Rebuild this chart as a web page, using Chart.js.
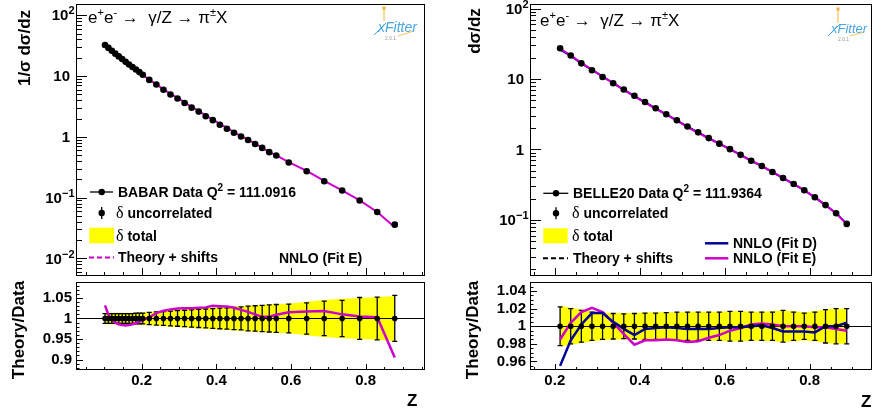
<!DOCTYPE html>
<html>
<head>
<meta charset="utf-8">
<script src="https://cdn.jsdelivr.net/npm/chart.js@4.4.1/dist/chart.umd.min.js"></script>
<style>
body { margin: 0; background: #fff; }
#page { position: relative; width: 876px; height: 418px; overflow: hidden; font-family: "Liberation Sans", Arial, sans-serif; }
canvas { position: absolute; }
.t { position: absolute; white-space: nowrap; font-weight: bold; font-size: 14px; line-height: 16px; color: #000; }
.d { font-family: "Liberation Serif", "DejaVu Serif", serif; font-weight: normal; font-size: 16px; }
.sp { font-size: 10px; position: relative; top: -6px; }
.title { position: absolute; white-space: nowrap; font-size: 17px; line-height: 18px; color: #000; }
.title .sp { font-size: 11px; top: -7px; }
.ytitle { position: absolute; white-space: nowrap; font-weight: bold; font-size: 17px; line-height: 20px; transform: translate(-50%, -50%) rotate(-90deg); }
.zlab { position: absolute; font-weight: bold; font-size: 17px; line-height: 20px; }
.logo { position: absolute; font-style: italic; color: #4aa6e0; font-size: 14px; line-height: 14px; }
.ver { position: absolute; font-size: 5px; color: #999; line-height: 5px; }
</style>
</head>
<body>
<div id="page">
<canvas id="babarMain" width="440" height="280" style="left:0;top:0"></canvas>
<canvas id="babarRatio" width="440" height="140" style="left:0;top:278px"></canvas>
<canvas id="belleMain" width="436" height="280" style="left:440px;top:0"></canvas>
<canvas id="belleRatio" width="436" height="140" style="left:440px;top:278px"></canvas>

<svg width="876" height="418" style="position:absolute;left:0;top:0">
  <!-- legend symbols, left -->
  <line x1="90" y1="192" x2="113" y2="192" stroke="#000" stroke-width="1.3"/>
  <circle cx="101.7" cy="192" r="3.2" fill="#000"/>
  <line x1="101.7" y1="207" x2="101.7" y2="219" stroke="#000" stroke-width="1.3"/>
  <circle cx="101.7" cy="213" r="3.2" fill="#000"/>
  <rect x="89.3" y="227.7" width="24.7" height="15.6" fill="#ffff00"/>
  <line x1="89" y1="257.5" x2="114" y2="257.5" stroke="#cc00cc" stroke-width="2.2" stroke-dasharray="5,3"/>
  <!-- legend symbols, right -->
  <line x1="543.3" y1="193.3" x2="568.3" y2="193.3" stroke="#000" stroke-width="1.3"/>
  <circle cx="556" cy="193.3" r="3.2" fill="#000"/>
  <line x1="556" y1="207.3" x2="556" y2="219.3" stroke="#000" stroke-width="1.3"/>
  <circle cx="556" cy="213.3" r="3.2" fill="#000"/>
  <rect x="543.3" y="228.3" width="24.4" height="15" fill="#ffff00"/>
  <line x1="543" y1="258.3" x2="568" y2="258.3" stroke="#000" stroke-width="2" stroke-dasharray="5,3"/>
  <line x1="705" y1="243.3" x2="728.3" y2="243.3" stroke="#000099" stroke-width="2.5"/>
  <line x1="705" y1="258.3" x2="728.3" y2="258.3" stroke="#cc00cc" stroke-width="2.5"/>
  <!-- logo strokes -->
  <line x1="384" y1="8" x2="384" y2="21" stroke="#f2b134" stroke-width="1"/>
  <rect x="382.5" y="6.5" width="3" height="3" fill="#f2b134"/>
  <line x1="374" y1="35" x2="386" y2="23" stroke="#4aa6e0" stroke-width="1"/>
  <line x1="398" y1="36" x2="414" y2="31" stroke="#f2b134" stroke-width="0.8"/>
  <line x1="838" y1="9" x2="838" y2="23" stroke="#f2b134" stroke-width="1"/>
  <rect x="836.5" y="7.5" width="3" height="3" fill="#f2b134"/>
  <line x1="828" y1="36" x2="840" y2="24" stroke="#4aa6e0" stroke-width="1"/>
  <line x1="850" y1="36" x2="864" y2="32" stroke="#f2b134" stroke-width="0.8"/>
</svg>

<div class="title" style="left:88px;top:9px">e<span class="sp">+</span>e<span class="sp">-</span> &#8594; &nbsp;&#947;/Z &#8594; &#960;<span class="sp">&#177;</span>X</div>
<div class="title" style="left:540px;top:12px">e<span class="sp">+</span>e<span class="sp">-</span> &#8594; &nbsp;&#947;/Z &#8594; &#960;<span class="sp">&#177;</span>X</div>

<div class="logo" style="left:378px;top:20px">xFitter</div>
<div class="ver" style="left:385px;top:36px">2.0.1</div>
<div class="logo" style="left:831px;top:22px;font-size:13px">xFitter</div>
<div class="ver" style="left:838px;top:37px">2.0.1</div>

<div class="ytitle" style="left:25px;top:48px">1/&#963; d&#963;/dz</div>
<div class="ytitle" style="left:19px;top:330px">Theory/Data</div>
<div class="ytitle" style="left:475px;top:31px">d&#963;/dz</div>
<div class="ytitle" style="left:473px;top:330px">Theory/Data</div>
<div class="zlab" style="left:407px;top:391px">Z</div>
<div class="zlab" style="left:861px;top:392px">Z</div>

<div class="t" style="left:118px;top:184px">BABAR Data Q<span class="sp">2</span> = 111.0916</div>
<div class="t" style="left:116px;top:205px"><span class="d">&#948;</span> uncorrelated</div>
<div class="t" style="left:116px;top:228px"><span class="d">&#948;</span> total</div>
<div class="t" style="left:118px;top:249px">Theory + shifts</div>
<div class="t" style="left:279px;top:250px">NNLO (Fit E)</div>

<div class="t" style="left:573px;top:185px">BELLE20 Data Q<span class="sp">2</span> = 111.9364</div>
<div class="t" style="left:572px;top:205px"><span class="d">&#948;</span> uncorrelated</div>
<div class="t" style="left:572px;top:228px"><span class="d">&#948;</span> total</div>
<div class="t" style="left:573px;top:250px">Theory + shifts</div>
<div class="t" style="left:733px;top:235px">NNLO (Fit D)</div>
<div class="t" style="left:733px;top:250px">NNLO (Fit E)</div>
</div>

<script>
// BABAR pi+- (normalised cross section)
const babarZ = [0.1017, 0.1109, 0.1201, 0.1293, 0.1385, 0.1477, 0.1569, 0.1661, 0.1753, 0.1845, 0.1937, 0.2029,
    0.2204, 0.2393, 0.2582, 0.2771, 0.2960, 0.3149, 0.3338, 0.3527, 0.3716, 0.3905, 0.4094, 0.4283, 0.4472,
    0.4661, 0.4850, 0.5039, 0.5228, 0.5417, 0.5606, 0.594, 0.642, 0.689, 0.737, 0.784, 0.831, 0.878];
const babarXsec = [32.4, 29.0, 26.0, 23.3, 21.0, 19.0, 17.1, 15.5, 14.1, 12.8, 11.6, 10.5,
    8.63, 7.24, 5.93, 4.98, 4.28, 3.60, 3.02, 2.60, 2.18, 1.88, 1.58, 1.36, 1.17,
    1.01, 0.888, 0.764, 0.658, 0.560, 0.493, 0.379, 0.271, 0.186, 0.131, 0.090, 0.058, 0.036];
const babarRatioE = [1.032, 1.009, 0.997, 0.990, 0.986, 0.984, 0.983, 0.984, 0.986, 0.989, 0.992, 0.996,
    1.003, 1.013, 1.019, 1.022, 1.024, 1.025, 1.025, 1.026, 1.027, 1.031, 1.030, 1.029, 1.026,
    1.021, 1.016, 1.010, 1.004, 1.004, 1.009, 1.015, 1.017, 1.018, 1.010, 1.005, 1.003, 0.905];
const babarUnc = [0.012, 0.012, 0.012, 0.012, 0.012, 0.012, 0.012, 0.012, 0.012, 0.013, 0.013, 0.013,
    0.015, 0.016, 0.017, 0.018, 0.019, 0.020, 0.021, 0.022, 0.023, 0.024, 0.025, 0.026, 0.027,
    0.028, 0.030, 0.031, 0.032, 0.033, 0.034, 0.035, 0.038, 0.042, 0.044, 0.051, 0.052, 0.056];
const babarTot = [0.014, 0.014, 0.014, 0.014, 0.014, 0.014, 0.014, 0.014, 0.014, 0.014, 0.014, 0.015,
    0.016, 0.017, 0.019, 0.020, 0.021, 0.022, 0.023, 0.024, 0.025, 0.026, 0.027, 0.028, 0.029,
    0.030, 0.031, 0.032, 0.033, 0.034, 0.035, 0.036, 0.041, 0.045, 0.048, 0.050, 0.052, 0.055];

// BELLE20 pi+-
const belleZ = [0.2125, 0.2375, 0.2625, 0.2875, 0.3125, 0.3375, 0.3625, 0.3875, 0.4125, 0.4375,
    0.4625, 0.4875, 0.5125, 0.5375, 0.5625, 0.5875, 0.6125, 0.6375, 0.6625, 0.6875,
    0.7125, 0.7375, 0.7625, 0.7875, 0.8125, 0.8375, 0.8625, 0.8875];
const belleXsec = [27.4, 21.6, 16.7, 13.3, 10.7, 8.72, 7.10, 5.78, 4.71, 3.84,
    3.16, 2.60, 2.12, 1.75, 1.45, 1.21, 1.01, 0.838, 0.690, 0.581,
    0.478, 0.394, 0.324, 0.264, 0.210, 0.162, 0.124, 0.0877];
const belleRatioD = [0.955, 0.984, 1.002, 1.015, 1.015, 1.005, 0.997, 0.990, 0.997, 0.998,
    0.999, 0.998, 0.997, 0.997, 0.997, 0.998, 0.999, 0.999, 1.000, 1.001,
    0.998, 0.994, 0.994, 0.994, 0.993, 1.000, 1.000, 1.004];
const belleRatioE = [0.985, 1.004, 1.016, 1.021, 1.016, 1.004, 0.991, 0.979, 0.984, 0.984,
    0.985, 0.984, 0.982, 0.983, 0.987, 0.990, 0.995, 0.998, 1.002, 1.003,
    1.002, 1.000, 1.000, 1.000, 0.999, 0.999, 0.997, 0.995];
const belleUnc = [0.022, 0.020, 0.018, 0.016, 0.015, 0.0145, 0.014, 0.0145, 0.015, 0.015,
    0.0155, 0.016, 0.016, 0.016, 0.016, 0.016, 0.017, 0.017, 0.016, 0.016,
    0.016, 0.018, 0.016, 0.015, 0.016, 0.019, 0.020, 0.020];
const belleTot = [0.023, 0.021, 0.019, 0.017, 0.0155, 0.015, 0.015, 0.015, 0.0155, 0.016,
    0.016, 0.016, 0.0165, 0.0165, 0.0165, 0.0165, 0.017, 0.017, 0.0165, 0.0165,
    0.017, 0.018, 0.017, 0.016, 0.017, 0.019, 0.020, 0.020];

// ticks
const zTicks = [0.2, 0.4, 0.6, 0.8];
const zTickLabels = ["0.2", "0.4", "0.6", "0.8"];
const logTicks = [100, 10, 1, 0.1, 0.01];
const logTickLabels = ["10^2", "10", "1", "10^\u22121", "10^\u22122"];
const babarRatioTicks = [0.9, 0.95, 1, 1.05];
const babarRatioLabels = ["0.9", "0.95", "1", "1.05"];
const belleRatioTicks = [0.96, 0.98, 1, 1.02, 1.04];
const belleRatioLabels = ["0.96", "0.98", "1", "1.02", "1.04"];

const MAGENTA = "#cc00cc";
const NAVY = "#000099";
const FONT = "'Liberation Sans', Arial, sans-serif";

function pts(xs, ys) {
    return xs.map((x, i) => ({ x: x, y: ys[i] }));
}

function isOn(v, step) {
    const r = v / step;
    return Math.abs(r - Math.round(r)) < 1e-6;
}

// ROOT style frame: box, inward ticks, labels, error bars
function rootFrame(cfg) {
    return {
        id: "rootFrame",
        afterDatasetDraw(chart, args) {
            if (!cfg.errors || args.index !== cfg.bandIndex) return;
            const { ctx, chartArea: a, scales: { x, y } } = chart;
            ctx.save();
            ctx.strokeStyle = "#000";
            ctx.lineWidth = 1.2;
            const y1 = Math.round(y.getPixelForValue(1)) + 0.5;
            ctx.beginPath();
            ctx.moveTo(a.left, y1);
            ctx.lineTo(a.right, y1);
            ctx.stroke();
            ctx.lineWidth = 1.3;
            cfg.errors.z.forEach((z, i) => {
                const px = x.getPixelForValue(z);
                const top = y.getPixelForValue(1 + cfg.errors.e[i]);
                const bot = y.getPixelForValue(1 - cfg.errors.e[i]);
                ctx.beginPath();
                ctx.moveTo(px, top);
                ctx.lineTo(px, bot);
                ctx.moveTo(px - 2.5, top);
                ctx.lineTo(px + 2.5, top);
                ctx.moveTo(px - 2.5, bot);
                ctx.lineTo(px + 2.5, bot);
                ctx.stroke();
            });
            ctx.restore();
        },
        afterDraw(chart) {
            const { ctx, chartArea: a, scales: { x, y } } = chart;
            ctx.save();
            ctx.strokeStyle = "#000";
            ctx.fillStyle = "#000";
            ctx.lineWidth = 1;
            ctx.strokeRect(a.left + 0.5, a.top + 0.5, a.width - 1, a.height - 1);

            // x ticks
            ctx.beginPath();
            for (let k = Math.ceil(x.min / 0.05 - 1e-9); k * 0.05 <= x.max; k++) {
                const v = k * 0.05;
                const px = Math.round(x.getPixelForValue(v)) + 0.5;
                const len = isOn(v, 0.2) ? cfg.xMajor : cfg.xMinor;
                ctx.moveTo(px, a.bottom);
                ctx.lineTo(px, a.bottom - len);
            }
            // y ticks
            if (cfg.log) {
                const d0 = Math.floor(Math.log10(y.min));
                const d1 = Math.ceil(Math.log10(y.max));
                for (let d = d0; d <= d1; d++) {
                    for (let m = 1; m <= 9; m++) {
                        const v = m * Math.pow(10, d);
                        if (v < y.min || v > y.max) continue;
                        const py = Math.round(y.getPixelForValue(v)) + 0.5;
                        ctx.moveTo(a.left, py);
                        ctx.lineTo(a.left + (m === 1 ? 11 : 6), py);
                    }
                }
            } else {
                for (let k = Math.ceil(y.min / cfg.yMinorStep - 1e-9); k * cfg.yMinorStep <= y.max; k++) {
                    const v = k * cfg.yMinorStep;
                    const py = Math.round(y.getPixelForValue(v)) + 0.5;
                    const major = cfg.yTicks.some(t => Math.abs(t - v) < 1e-6);
                    ctx.moveTo(a.left, py);
                    ctx.lineTo(a.left + (major ? 7 : 3.5), py);
                }
            }
            ctx.stroke();

            // y labels
            ctx.textBaseline = "middle";
            cfg.yTicks.forEach((v, i) => {
                const py = y.getPixelForValue(v);
                const parts = cfg.yLabels[i].split("^");
                if (parts.length === 2) {
                    ctx.font = "bold 11px " + FONT;
                    const we = ctx.measureText(parts[1]).width;
                    const right = a.left - 1.5;
                    ctx.textAlign = "left";
                    ctx.fillText(parts[1], right - we, py - 4);
                    ctx.font = "bold 15px " + FONT;
                    ctx.textAlign = "right";
                    ctx.fillText(parts[0], right - we, py + 1);
                } else {
                    ctx.font = "bold 15px " + FONT;
                    ctx.textAlign = "right";
                    ctx.fillText(parts[0], a.left - (cfg.log ? 6 : 4), py + (cfg.log ? 1 : 0));
                }
            });

            // x labels
            if (cfg.xLabels) {
                ctx.font = "bold 15px " + FONT;
                ctx.textAlign = "center";
                zTicks.forEach((v, i) => {
                    ctx.fillText(zTickLabels[i], x.getPixelForValue(v), a.bottom + 11);
                });
            }
            ctx.restore();
        }
    };
}

function baseOptions(pad, xr, yType, yr) {
    return {
        responsive: false,
        animation: false,
        layout: { padding: pad },
        plugins: { legend: { display: false }, tooltip: { enabled: false } },
        elements: { line: { tension: 0 } },
        scales: {
            x: { type: "linear", min: xr[0], max: xr[1], display: false },
            y: { type: yType, min: yr[0], max: yr[1], display: false }
        }
    };
}

function dataPoints(xs, ys, r) {
    return {
        data: pts(xs, ys),
        showLine: false,
        pointRadius: r,
        pointBackgroundColor: "#000",
        pointBorderWidth: 0
    };
}

function curve(xs, ys, color, w) {
    return {
        data: pts(xs, ys),
        borderColor: color,
        borderWidth: w,
        pointRadius: 0,
        fill: false
    };
}

function band(xs, tot, sign, fill) {
    return {
        data: pts(xs, tot.map(e => 1 + sign * e)),
        borderWidth: 0,
        borderColor: "rgba(0,0,0,0)",
        backgroundColor: "#ffff00",
        pointRadius: 0,
        fill: fill
    };
}

// ---- BABAR main ----
const babarTheory = babarXsec.map((v, i) => v * babarRatioE[i]);
new Chart(document.getElementById("babarMain"), {
    type: "line",
    data: {
        datasets: [
            dataPoints(babarZ, babarXsec, 3.3),
            curve(babarZ, babarTheory, MAGENTA, 2)
        ]
    },
    options: baseOptions({ left: 76, top: 2, right: 15, bottom: 3 }, [0.024, 0.959], "logarithmic", [0.00515, 152.8]),
    plugins: [rootFrame({ log: true, xMajor: 8, xMinor: 4, yTicks: logTicks, yLabels: logTickLabels, xLabels: false })]
});

// ---- BABAR ratio ----
new Chart(document.getElementById("babarRatio"), {
    type: "line",
    data: {
        datasets: [
            dataPoints(babarZ, babarZ.map(() => 1), 2.8),
            curve(babarZ, babarRatioE, MAGENTA, 2.5),
            band(babarZ, babarTot, -1, "+1"),
            band(babarZ, babarTot, 1, false)
        ]
    },
    options: baseOptions({ left: 76, top: 2, right: 15, bottom: 48 }, [0.024, 0.959], "linear", [0.8745, 1.0888]),
    plugins: [rootFrame({
        log: false, xMajor: 6, xMinor: 3, yTicks: babarRatioTicks, yLabels: babarRatioLabels,
        yMinorStep: 0.01, xLabels: true, bandIndex: 2, errors: { z: babarZ, e: babarUnc }
    })]
});

// ---- BELLE main ----
new Chart(document.getElementById("belleMain"), {
    type: "line",
    data: {
        datasets: [
            dataPoints(belleZ, belleXsec, 3.3),
            curve(belleZ, belleXsec.map((v, i) => v * belleRatioE[i]), MAGENTA, 2),
            curve(belleZ, belleXsec.map((v, i) => v * belleRatioD[i]), NAVY, 2)
        ]
    },
    options: baseOptions({ left: 90, top: 2, right: 1, bottom: 3 }, [0.1416, 0.947], "logarithmic", [0.01596, 116.3]),
    plugins: [rootFrame({ log: true, xMajor: 8, xMinor: 4, yTicks: logTicks, yLabels: logTickLabels, xLabels: false })]
});

// ---- BELLE ratio ----
new Chart(document.getElementById("belleRatio"), {
    type: "line",
    data: {
        datasets: [
            dataPoints(belleZ, belleZ.map(() => 1), 2.8),
            curve(belleZ, belleRatioD, NAVY, 2.5),
            curve(belleZ, belleRatioE, MAGENTA, 2.5),
            band(belleZ, belleTot, -1, "+1"),
            band(belleZ, belleTot, 1, false)
        ]
    },
    options: baseOptions({ left: 90, top: 2, right: 1, bottom: 48 }, [0.1416, 0.947], "linear", [0.9503, 1.0503]),
    plugins: [rootFrame({
        log: false, xMajor: 6, xMinor: 3, yTicks: belleRatioTicks, yLabels: belleRatioLabels,
        yMinorStep: 0.005, xLabels: true, bandIndex: 3, errors: { z: belleZ, e: belleUnc }
    })]
});
</script>
</body>
</html>
